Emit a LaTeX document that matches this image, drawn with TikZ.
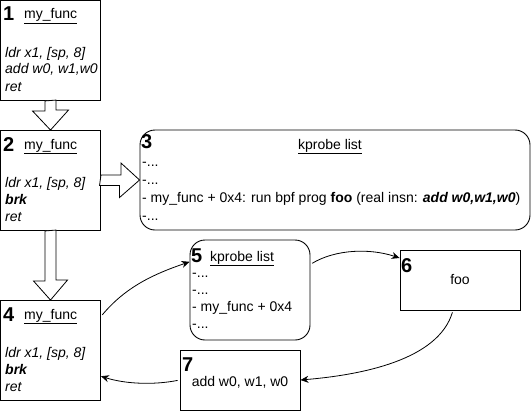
\documentclass[tikz,border=0pt]{standalone}
\usepackage{fontspec}
\setmainfont{Liberation Sans}
\usetikzlibrary{arrows.meta,calc}
\tikzset{
  every node/.style={font=\fontsize{14}{17}\selectfont, inner sep=0pt},
  box/.style  ={draw=black, line width=0.9pt, fill=white},
  fnb/.style  ={box, minimum width=100, minimum height=100},
  lst/.style  ={box, rounded corners=15pt},
  num/.style  ={font=\fontsize{20}{20}\selectfont\bfseries, anchor=base west},
  lbl/.style  ={anchor=base west},
  ins/.style  ={lbl, font=\fontsize{14}{17}\selectfont\itshape},
  ar/.style   ={-{Stealth[length=8pt,width=7pt]}, line width=0.8pt, shorten <=2pt},
  bigar/.style={draw=black, line width=0.8pt, fill=white, line join=miter},
}

\begin{document}
\begin{tikzpicture}[x=1pt, y=-1pt]
\useasboundingbox (0,0) rectangle (532,412);

% ============ function boxes 1, 2, 4 ========================================
\foreach \k/\y/\ins in {1/0/{add w0, w1,w0}, 2/130/\textbf{brk}, 4/300/\textbf{brk}}{
  \node[fnb] (b\k) at (50.5,\y+50.5) {};
  \node[num] at (3,\y+21) {\k};
  \node[lbl] at (24,\y+19) {\underline{my\_func}};
  \node[ins] at (5,\y+57) {ldr x1, [sp, 8]};
  \node[ins] at (5,\y+74) {\ins};
  \node[ins] at (5,\y+91) {ret};
}

% ============ kprobe list (3) ===============================================
\node[lst, minimum width=390, minimum height=100] (b3) at (335,180) {};
\node[num] at (141,148) {3};
\node[lbl, anchor=base] at (330,149) {\underline{kprobe list}};
\node[lbl] at (142,166) {-...};
\node[lbl] at (142,184) {-...};
\node[lbl] at (142,202) {- my\_func + 0x4: run bpf prog \textbf{foo} (real insn: \textbf{\textit{add w0,w1,w0}})};
\node[lbl] at (142,220) {-...};

% ============ kprobe list (5), prog (6), insn (7) ===========================
\node[lst, minimum width=120, minimum height=100] (b5) at (250,290) {};
\node[num] at (191,262) {5};
\node[lbl] at (210,261) {\underline{kprobe list}};
\node[lbl] at (192,277) {-...};
\node[lbl] at (192,294) {-...};
\node[lbl] at (192,311) {- my\_func + 0x4};
\node[lbl] at (192,328) {-...};

\node[box, minimum width=120, minimum height=60] (b6) at (460,280) {};
\node[num] at (401,272) {6};
\node[lbl, anchor=base] at (460,284) {foo};

\node[box, minimum width=120, minimum height=60] (b7) at (240,380) {};
\node[num] at (182,371) {7};
\node[lbl, anchor=base] at (240,386) {add w0, w1, w0};

% ============ block arrows ==================================================
\draw[bigar] ($(b1.south)+(-5.5,0)$) -- ++(0,10) -- ++(-12.5,0) -- (b2.north)
  -- ++(18,-20) -- ++(-12.5,0) -- ++(0,-10) -- cycle;
\draw[bigar] ($(b2.east)+(0,-5.5)$) -- ++(20,0) -- ++(0,-12) -- (b3.west)
  -- ++(-20,17.5) -- ++(0,-12) -- ++(-20,0) -- cycle;
\draw[bigar] ($(b2.south)+(-5.5,0)$) -- ++(0,50) -- ++(-11.5,0) -- (b4.north)
  -- ++(17,-20) -- ++(-11.5,0) -- ++(0,-50) -- cycle;

% ============ curved arrows =================================================
\draw[ar] (b4.34) .. controls +(25,-30) and +(-35,12) .. (b5.155);
\draw[ar] (b5.23) .. controls +(25,-15) and +(-30,-10) .. (b6.160);
\draw[ar] (b6.257) .. controls +(-15,50) and +(60,-5) .. (b7.east);
\draw[ar] (b7.west) .. controls +(-25,5) and +(25,8) .. (b4.-27);

\end{tikzpicture}
\end{document}
